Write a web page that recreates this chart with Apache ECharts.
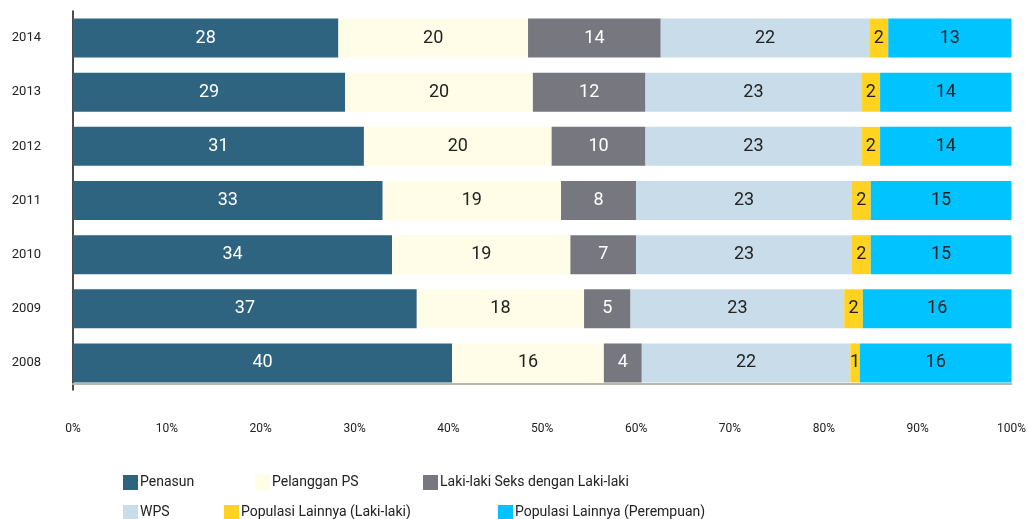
<!DOCTYPE html>
<html>
<head>
<meta charset="utf-8">
<script src="https://cdn.jsdelivr.net/npm/echarts@6/dist/echarts.min.js"></script>
<style>
  html, body { margin: 0; padding: 0; background: #fff; }
  #main { width: 1029px; height: 519px; }
</style>
</head>
<body>
<div id="main"></div>
<script>
// tahun (urut dari bawah ke atas)
var years = ['2008', '2009', '2010', '2011', '2012', '2013', '2014'];

// nilai per kelompok, sesuai urutan years
var penasun      = [40, 37, 34, 33, 31, 29, 28];
var pelangganPS  = [16, 18, 19, 19, 20, 20, 20];
var lslTerhadap  = [4, 5, 7, 8, 10, 12, 14];
var wps          = [22, 23, 23, 23, 23, 23, 22];
var lainLaki     = [1, 2, 2, 2, 2, 2, 2];
var lainPerempuan = [16, 16, 15, 15, 14, 14, 13];

var xTicks = ['0%', '10%', '20%', '30%', '40%', '50%', '60%', '70%', '80%', '90%', '100%'];

var groups = [
  { name: 'Penasun', data: penasun, color: '#2e6480', text: '#ffffff' },
  { name: 'Pelanggan PS', data: pelangganPS, color: '#fffde8', text: '#222222' },
  { name: 'Laki-laki Seks dengan Laki-laki', data: lslTerhadap, color: '#77777f', text: '#ffffff' },
  { name: 'WPS', data: wps, color: '#c8dcea', text: '#222222' },
  { name: 'Populasi Lainnya (Laki-laki)', data: lainLaki, color: '#ffd320', text: '#222222' },
  { name: 'Populasi Lainnya (Perempuan)', data: lainPerempuan, color: '#00c3ff', text: '#222222' }
];

// total per tahun, untuk bar 100%
var totals = years.map(function (y, i) {
  var s = 0;
  groups.forEach(function (g) { s += g.data[i]; });
  return s;
});

var FONT = 'Roboto';

var series = groups.map(function (g) {
  return {
    name: g.name,
    type: 'bar',
    stack: 'total',
    barWidth: 39,
    itemStyle: { color: g.color },
    label: {
      show: true,
      position: 'inside',
      color: g.text,
      fontFamily: FONT,
      fontSize: 18,
      formatter: function (p) { return g.data[p.dataIndex]; }
    },
    data: g.data.map(function (v, i) { return v / totals[i] * 100; })
  };
});

// posisi legenda (satu item per legenda)
var legendPos = [
  { left: 118, top: 470 },
  { left: 250, top: 470 },
  { left: 418, top: 470 },
  { left: 118, top: 500 },
  { left: 219, top: 500 },
  { left: 493, top: 500 }
];
var legends = groups.map(function (g, i) {
  return {
    data: [g.name],
    left: legendPos[i].left,
    top: legendPos[i].top,
    itemWidth: 15,
    itemHeight: 15,
    itemGap: 0,
    textStyle: { fontFamily: FONT, fontSize: 14, color: '#222', padding: [0, 0, 0, -3] },
    icon: 'rect',
    selectedMode: false
  };
});

var chart = echarts.init(document.getElementById('main'));
chart.setOption({
  animation: false,
  backgroundColor: '#ffffff',
  grid: { left: 73, right: 14, top: 11, bottom: 129 },
  legend: legends,
  xAxis: {
    type: 'value',
    min: 0,
    max: 100,
    interval: 10,
    offset: -6,
    axisLine: { show: true, lineStyle: { color: '#b8b8aa', width: 2 } },
    axisTick: { show: false },
    splitLine: { show: false },
    axisLabel: {
      margin: 39,
      fontFamily: FONT,
      fontSize: 12,
      color: '#222',
      formatter: function (v) { return xTicks[Math.round(v / 10)]; }
    }
  },
  yAxis: {
    type: 'category',
    data: years,
    axisLine: { show: true, lineStyle: { color: '#111', width: 1.5 } },
    axisTick: { show: false },
    axisLabel: { margin: 32, fontFamily: FONT, fontSize: 13, color: '#222' }
  },
  series: series
});
</script>
</body>
</html>
